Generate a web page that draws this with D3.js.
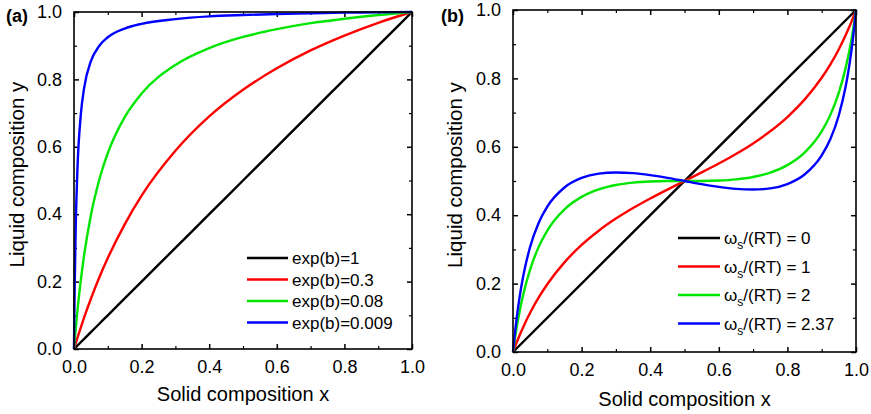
<!DOCTYPE html>
<html>
<head>
<meta charset="utf-8">
<script src="https://cdn.jsdelivr.net/npm/d3@7"></script>
<style>
  body { margin: 0; background: #fff; }
  svg { display: block; font-family: "Liberation Sans", Arial, sans-serif; }
</style>
</head>
<body>
<svg id="chart" width="871" height="414"></svg>
<script>
// panel (a): y at these x positions
const xA = [0, 0.001, 0.002, 0.005, 0.01, 0.02, 0.03, 0.05, 0.075, 0.1, 0.15, 0.2, 0.3, 0.4, 0.5, 0.6, 0.7, 0.8, 0.9, 1];
const yA1 = [0, 0.001, 0.002, 0.005, 0.01, 0.02, 0.03, 0.05, 0.075, 0.1, 0.15, 0.2, 0.3, 0.4, 0.5, 0.6, 0.7, 0.8, 0.9, 1];
const yA03 = [0, 0.0033, 0.0066, 0.0165, 0.0326, 0.0637, 0.0935, 0.149, 0.213, 0.270, 0.370, 0.455, 0.588, 0.690, 0.769, 0.833, 0.886, 0.930, 0.968, 1];
const yA008 = [0, 0.0124, 0.0244, 0.0591, 0.112, 0.203, 0.279, 0.397, 0.503, 0.581, 0.688, 0.758, 0.843, 0.893, 0.926, 0.949, 0.967, 0.980, 0.991, 1];
const yA0009 = [0, 0.100, 0.182, 0.358, 0.529, 0.694, 0.775, 0.854, 0.900, 0.925, 0.951, 0.965, 0.979, 0.987, 0.991, 0.994, 0.996, 0.998, 0.999, 1];
const labelsA = ['exp(b)=1', 'exp(b)=0.3', 'exp(b)=0.08', 'exp(b)=0.009'];

// panel (b)
const xB = [0, 0.005, 0.01, 0.02, 0.03, 0.05, 0.075, 0.1, 0.15, 0.2, 0.25, 0.3, 0.35, 0.4, 0.45, 0.5,
  0.55, 0.6, 0.65, 0.7, 0.75, 0.8, 0.85, 0.9, 0.925, 0.95, 0.97, 0.98, 0.99, 0.995, 1];
const yB1 = [0, 0.0133, 0.0262, 0.0506, 0.0734, 0.1146, 0.1595, 0.198, 0.262, 0.313, 0.3547, 0.390, 0.4209, 0.449, 0.4749, 0.5,
  0.5251, 0.551, 0.5791, 0.610, 0.6453, 0.687, 0.738, 0.802, 0.8405, 0.8854, 0.9266, 0.9494, 0.9738, 0.9867, 1];
const yB2 = [0, 0.0351, 0.0669, 0.1222, 0.1685, 0.2415, 0.3074, 0.355, 0.417, 0.4536, 0.4754, 0.4882, 0.4952, 0.4986, 0.4998, 0.5,
  0.5002, 0.5014, 0.5048, 0.5118, 0.5246, 0.5464, 0.583, 0.645, 0.6926, 0.7585, 0.8315, 0.8778, 0.9331, 0.9649, 1];
const yB237 = [0, 0.0499, 0.0934, 0.1657, 0.2230, 0.3076, 0.378, 0.4252, 0.4811, 0.5089, 0.5216, 0.525, 0.5230, 0.5171, 0.5091, 0.5,
  0.4909, 0.4829, 0.4770, 0.475, 0.4784, 0.4911, 0.5189, 0.5748, 0.622, 0.6924, 0.777, 0.8343, 0.9066, 0.9501, 1];
const labelsB = ['0', '1', '2', '2.37'];

const majorTicks = [0, 0.2, 0.4, 0.6, 0.8, 1.0];
const minorTicks = [0.1, 0.3, 0.5, 0.7, 0.9];
const colors = ['#000000', '#ff0000', '#00e600', '#0000ff'];

const svg = d3.select('#chart');

function drawPanel(p) {
  const x = d3.scaleLinear().domain([0, 1]).range([p.left, p.right]);
  const y = d3.scaleLinear().domain([0, 1]).range([p.bottom, p.top]);
  const g = svg.append('g');
  const fmt = d3.format('.1f');

  const axes = [
    [d3.axisBottom(x), `translate(0,${p.bottom})`, true],
    [d3.axisTop(x), `translate(0,${p.top})`, false],
    [d3.axisLeft(y), `translate(${p.left},0)`, true],
    [d3.axisRight(y), `translate(${p.right},0)`, false]
  ];
  axes.forEach(([axis, tr, labelled], i) => {
    const major = g.append('g').attr('transform', tr)
      .call(axis.tickValues(majorTicks).tickSize(-5)
        .tickPadding(i === 0 ? 11 : 12)
        .tickFormat(labelled ? fmt : ''));
    major.select('.domain').remove();
    major.selectAll('line').attr('stroke-width', 1.5);
    major.selectAll('text').attr('font-size', 18).attr('fill', '#000')
      .attr('font-family', '"Liberation Sans", Arial, sans-serif');
    const minor = g.append('g').attr('transform', tr)
      .call(axis.tickValues(minorTicks).tickSize(-3).tickFormat(''));
    minor.select('.domain').remove();
    minor.selectAll('line').attr('stroke-width', 1.2);
  });

  const line = d3.line()
    .x(d => x(d[0]))
    .y(d => y(d[1]))
    .curve(d3.curveMonotoneX);

  p.series.forEach((ys, i) => {
    g.append('path')
      .datum(p.xs[i].map((v, j) => [v, ys[j]]))
      .attr('fill', 'none')
      .attr('stroke', colors[i])
      .attr('stroke-width', 2.4)
      .attr('stroke-linejoin', 'round')
      .attr('d', line);
  });

  g.append('rect')
    .attr('x', p.left).attr('y', p.top)
    .attr('width', p.right - p.left).attr('height', p.bottom - p.top)
    .attr('fill', 'none').attr('stroke', '#000').attr('stroke-width', 1.6);

  // legend
  p.labels.forEach((lab, i) => {
    const ly = p.legY + i * p.legStep;
    g.append('line')
      .attr('x1', p.legX).attr('x2', p.legX + p.legLen)
      .attr('y1', ly).attr('y2', ly)
      .attr('stroke', colors[i]).attr('stroke-width', 2.4);
    const t = g.append('text')
      .attr('x', p.legX + p.legLen + 4).attr('y', ly)
      .attr('dy', '0.36em')
      .attr('font-size', 17);
    p.legendText(t, lab);
  });

  g.append('text')
    .attr('x', (p.left + p.right) / 2).attr('y', p.xTitleY)
    .attr('text-anchor', 'middle').attr('font-size', 20)
    .text('Solid composition x');
  g.append('text')
    .attr('transform', `translate(${p.yTitleX},${(p.top + p.bottom) / 2 - 6}) rotate(-90)`)
    .attr('text-anchor', 'middle').attr('font-size', 20.5)
    .text('Liquid composition y');
  g.append('text')
    .attr('x', p.tagX).attr('y', 22)
    .attr('font-size', 18).attr('font-weight', 'bold')
    .text(p.tag);
}

drawPanel({
  left: 74, right: 412, top: 12, bottom: 349,
  xs: [xA, xA, xA, xA],
  series: [yA1, yA03, yA008, yA0009],
  labels: labelsA,
  legX: 247, legLen: 41, legY: 258, legStep: 21.5,
  legendText: (t, lab) => t.text(lab),
  xTitleY: 401, yTitleX: 24, tagX: 6, tag: '(a)'
});

drawPanel({
  left: 513, right: 856, top: 10, bottom: 352,
  xs: [[0, 1], xB, xB, xB],
  series: [[0, 1], yB1, yB2, yB237],
  labels: labelsB,
  legX: 678, legLen: 42, legY: 238, legStep: 28.5,
  legendText: (t, lab) => {
    t.append('tspan').text('ω');
    t.append('tspan').attr('font-size', 12).attr('dy', 5).text('s');
    t.append('tspan').attr('dy', -5).text(`/(RT) = ${lab}`);
  },
  xTitleY: 406, yTitleX: 462, tagX: 441, tag: '(b)'
});
</script>
</body>
</html>
